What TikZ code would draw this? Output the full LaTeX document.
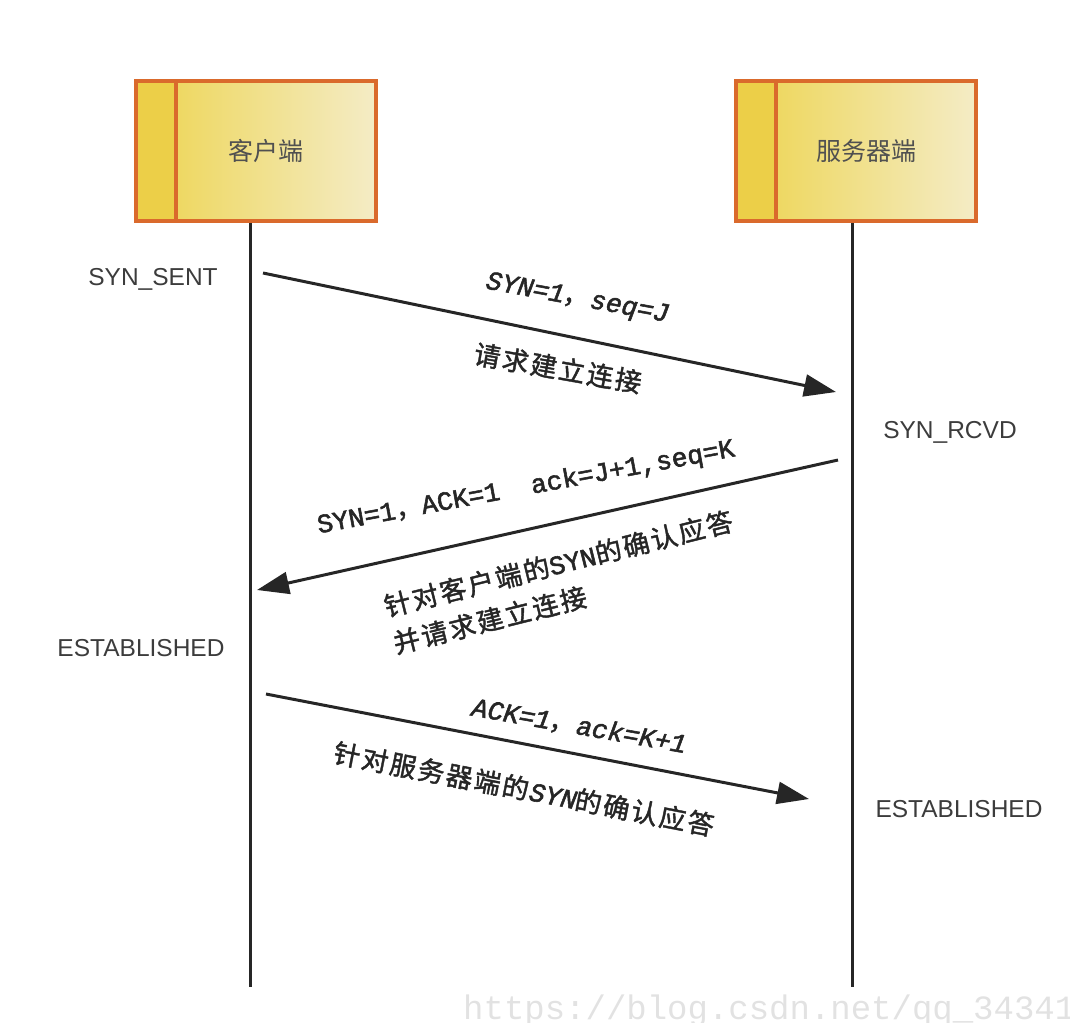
\documentclass[tikz,border=0pt]{standalone}
\usepackage{fontspec}
\setmainfont{Liberation Sans}
\newfontfamily\cjk[LetterSpace=8,FakeBold=1.6]{Noto Sans CJK SC}
\newfontfamily\cjkplain{Noto Sans CJK SC}
\newfontfamily\cjkbold[FakeBold=1.6]{Noto Sans CJK SC}
\newfontfamily\monof[FakeBold=2]{Liberation Mono}
\newfontfamily\monoit[FakeBold=2,FakeSlant=0.18]{Liberation Mono}
\newfontfamily\wmfont{Liberation Mono}
\usetikzlibrary{arrows.meta}
\definecolor{boxorange}{HTML}{DA6A2C}
\definecolor{stripcol}{HTML}{ECCF48}
\definecolor{gradA}{HTML}{EDD44E}
\definecolor{gradB}{HTML}{F4ECC6}
\definecolor{boxtext}{HTML}{505050}
\definecolor{inkcol}{HTML}{262626}
\definecolor{wmcol}{HTML}{E2E2E2}
\tikzset{
  actor/.style={rectangle, minimum width=240pt, minimum height=140pt, inner sep=0pt,
    draw=boxorange, line width=3.5pt,
    path picture={
      \shade[left color=gradA, right color=gradB]
        (path picture bounding box.south west) rectangle (path picture bounding box.north east);
      \fill[stripcol] (path picture bounding box.south west) rectangle ([xshift=40pt]path picture bounding box.north west);
      \draw[boxorange, line width=3.5pt] ([xshift=40pt]path picture bounding box.south west) -- ([xshift=40pt]path picture bounding box.north west);
    }},
  actortext/.style={text=boxtext, font=\cjkplain\fontsize{25}{25}\selectfont, inner sep=0pt},
  lifeline/.style={draw=inkcol, line width=3pt},
  msg/.style={draw=inkcol, line width=3pt, -{Triangle[length=32pt,width=22pt]}},
  state/.style={text=inkcol!90, font=\fontsize{24.5}{28}\selectfont, inner sep=0pt},
  msglabel/.style={text=inkcol, font=\fontsize{26.5}{38}\selectfont, inner sep=0pt},
}
\begin{document}
\begin{tikzpicture}[x=1pt,y=-1pt]
\useasboundingbox (0,0) rectangle (1070,1022);
% actors
\node[actor] (client) at (256,151) {};
\node[actor] (server) at (856,151) {};
\node[actortext] (clientt) at ([xshift=10pt]client.center) {客户端};
\node[actortext] (servert) at ([xshift=10pt]server.center) {服务器端};
% lifelines
\coordinate (ctop) at ([xshift=-6pt]client.south);
\coordinate (stop) at ([xshift=-4pt]server.south);
\coordinate (cbot) at (250,987);
\coordinate (sbot) at (852,987);
\draw[lifeline] (ctop) -- (cbot);
\draw[lifeline] (stop) -- (sbot);
% states
\node[state] (synsent) at (153,279) {SYN\_SENT};
\node[state] (synrcvd) at (950,432) {SYN\_RCVD};
\node[state] (estc) at (141,648) {ESTABLISHED};
\node[state] (ests) at (959,809) {ESTABLISHED};
% messages
\coordinate (m1s) at (263,273);
\coordinate (m1e) at (836,392);
\coordinate (m2s) at (838,460);
\coordinate (m2e) at (257,590);
\coordinate (m3s) at (266,694);
\coordinate (m3e) at (809,799);
\draw[msg] (m1s) -- (m1e);
\draw[msg] (m2s) -- (m2e);
\draw[msg] (m3s) -- (m3e);
% labels
\node[msglabel, rotate=-10.5] (l1a) at (576,299) {{\monoit SYN=1}{\cjkbold ，}{\monoit seq=J}};
\node[msglabel, rotate=-10] (l1b) at (558,368) {\cjk 请求建立连接};
\node[msglabel, rotate=10.5] (l2a) at (526,488) {\monof SYN=1{\cjkbold ，}ACK=1\ \ ack=J+1,seq=K};
\node[msglabel, rotate=14, align=left] (l2b) at (563,582) {{\cjk 针对客户端的}{\monof SYN}{\cjk 的确认应答}\\{\cjk 并请求建立连接}};
\node[msglabel, rotate=-10] (l3a) at (578,726) {{\monoit ACK=1}{\cjkbold ，}{\monoit ack=K+1}};
\node[msglabel, rotate=-11] (l3b) at (524,789) {{\cjk 针对服务器端的}{\monoit SYN}{\cjk 的确认应答}};
% watermark
\begin{scope}
\clip (0,0) rectangle (1070,1022);
\node[anchor=base west, inner sep=0pt, text=wmcol, font=\wmfont\fontsize{34}{34}\selectfont] (wm) at (463,1019) {https://blog.csdn.net/qq\_343412};
\end{scope}
\end{tikzpicture}
\end{document}
